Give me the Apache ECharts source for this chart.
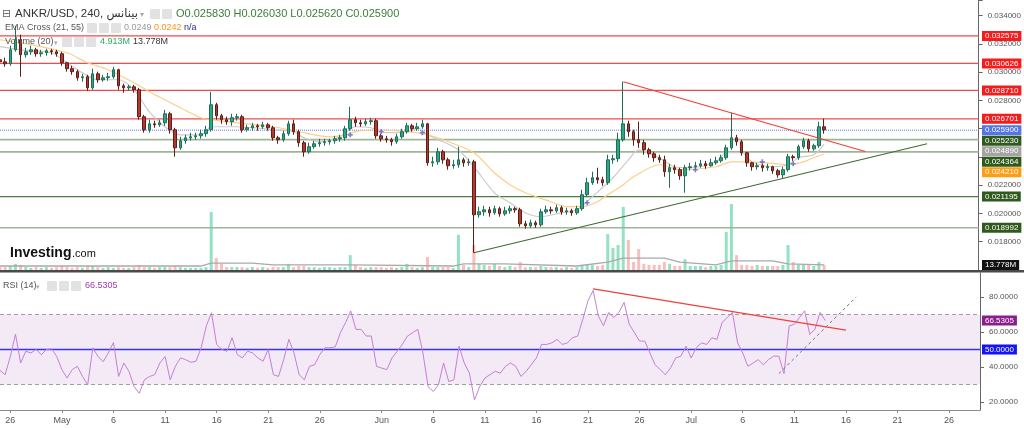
<!DOCTYPE html>
<html><head><meta charset="utf-8">
<script src="https://cdn.jsdelivr.net/npm/echarts@6/dist/echarts.min.js"></script>
<style>html,body{margin:0;padding:0;background:#fff}#c{width:1024px;height:428px}</style>
</head><body><div id="c"></div>
<script>
// ---- time axis (12h bars) ----
const startTime = Date.UTC(2022, 3, 25, 0);
const stepHours = 12;
const categoryCount = 191;
const labelDays = [1, 6, 11, 16, 21, 26];
const monthNames = ['Jan','Feb','Mar','Apr','May','Jun','Jul','Aug','Sep','Oct','Nov','Dec'];

// ---- price bars ----
const opens = [0.03088,
0.03074,0.03060,0.03159,0.03230,0.03124,0.03145,0.03159,0.03131,0.03138,0.03152,
0.03145,0.03131,0.03067,0.03025,0.03004,0.02961,0.02968,0.02890,0.02989,0.02947,
0.02961,0.02968,0.03018,0.02904,0.02890,0.02897,0.02876,0.02685,0.02593,0.02635,
0.02628,0.02642,0.02706,0.02593,0.02465,0.02515,0.02536,0.02543,0.02550,0.02565,
0.02593,0.02770,0.02692,0.02664,0.02650,0.02678,0.02685,0.02593,0.02607,0.02621,
0.02614,0.02628,0.02607,0.02536,0.02522,0.02565,0.02635,0.02579,0.02501,0.02437,
0.02473,0.02494,0.02501,0.02508,
0.02515,0.02529,0.02536,0.02600,0.02664,0.02642,0.02635,0.02650,0.02657,0.02550,
0.02529,0.02522,0.02508,0.02543,0.02579,0.02621,0.02600,0.02614,0.02635,0.02359,
0.02366,0.02437,0.02380,0.02338,0.02345,0.02380,0.02359,0.02366,0.01991,0.02012,
0.02026,0.02005,0.02034,0.01998,0.02019,0.02034,0.02026,0.01927,0.01913,0.01934,
0.01920,0.02012,0.02026,0.02019,0.02041,0.02012,0.02019,0.02005,0.02034,0.02133,
0.02218,0.02253,0.02239,0.02218,0.02380,0.02388,0.02522,0.02635,0.02579,0.02522,
0.02501,0.02451,0.02423,0.02395,
0.02380,0.02296,0.02324,0.02310,0.02267,0.02324,0.02331,0.02338,0.02352,0.02338,
0.02359,0.02373,0.02395,0.02465,0.02536,0.02508,0.02430,0.02359,0.02331,0.02338,
0.02324,0.02331,0.02303,0.02274,0.02310,0.02402,0.02395,0.02473,0.02515,0.02458,
0.02480,0.02614];
const closes = [
0.03074,0.03060,0.03159,0.03230,0.03124,0.03145,0.03159,0.03131,0.03138,0.03152,
0.03145,0.03131,0.03067,0.03025,0.03004,0.02961,0.02968,0.02890,0.02989,0.02947,
0.02961,0.02968,0.03018,0.02904,0.02890,0.02897,0.02876,0.02685,0.02593,0.02635,
0.02628,0.02642,0.02706,0.02593,0.02465,0.02515,0.02536,0.02543,0.02550,0.02565,
0.02593,0.02770,0.02692,0.02664,0.02650,0.02678,0.02685,0.02593,0.02607,0.02621,
0.02614,0.02628,0.02607,0.02536,0.02522,0.02565,0.02635,0.02579,0.02501,0.02437,
0.02473,0.02494,0.02501,0.02508,
0.02515,0.02529,0.02536,0.02600,0.02664,0.02642,0.02635,0.02650,0.02657,0.02550,
0.02529,0.02522,0.02508,0.02543,0.02579,0.02621,0.02600,0.02614,0.02635,0.02359,
0.02366,0.02437,0.02380,0.02338,0.02345,0.02380,0.02359,0.02366,0.01991,0.02012,
0.02026,0.02005,0.02034,0.01998,0.02019,0.02034,0.02026,0.01927,0.01913,0.01934,
0.01920,0.02012,0.02026,0.02019,0.02041,0.02012,0.02019,0.02005,0.02034,0.02133,
0.02218,0.02253,0.02239,0.02218,0.02380,0.02388,0.02522,0.02635,0.02579,0.02522,
0.02501,0.02451,0.02423,0.02395,
0.02380,0.02296,0.02324,0.02310,0.02267,0.02324,0.02331,0.02338,0.02352,0.02338,
0.02359,0.02373,0.02395,0.02465,0.02536,0.02508,0.02430,0.02359,0.02331,0.02338,
0.02324,0.02331,0.02303,0.02274,0.02310,0.02402,0.02395,0.02473,0.02515,0.02458,
0.02480,0.02614,0.02593];
const lows = [0.03053,
0.03039,0.03046,0.03145,0.02968,0.03103,0.03124,0.03110,0.03110,0.03117,0.03124,
0.03110,0.03046,0.03004,0.02982,0.02940,0.02933,0.02869,0.02876,0.02926,0.02933,
0.02940,0.02954,0.02876,0.02855,0.02869,0.02855,0.02664,0.02572,0.02572,0.02607,
0.02614,0.02621,0.02565,0.02402,0.02451,0.02494,0.02515,0.02522,0.02529,0.02543,
0.02579,0.02664,0.02635,0.02628,0.02621,0.02657,0.02572,0.02579,0.02586,0.02586,
0.02600,0.02586,0.02515,0.02494,0.02508,0.02550,0.02557,0.02473,0.02402,0.02423,
0.02458,0.02473,0.02480,0.02487,
0.02494,0.02508,0.02515,0.02586,0.02614,0.02614,0.02621,0.02628,0.02529,0.02508,
0.02501,0.02480,0.02494,0.02529,0.02565,0.02579,0.02586,0.02600,0.02338,0.02331,
0.02345,0.02352,0.02310,0.02317,0.02324,0.02331,0.02338,0.01722,0.01970,0.01984,
0.01977,0.01991,0.01977,0.01984,0.01998,0.02005,0.01906,0.01892,0.01899,0.01899,
0.01906,0.01998,0.01998,0.02005,0.01991,0.01991,0.01984,0.01991,0.02019,0.02119,
0.02203,0.02211,0.02196,0.02203,0.02352,0.02366,0.02508,0.02543,0.02480,0.02465,
0.02416,0.02395,0.02366,0.02359,
0.02260,0.02182,0.02281,0.02239,0.02147,0.02303,0.02310,0.02324,0.02317,0.02331,
0.02345,0.02359,0.02380,0.02451,0.02480,0.02409,0.02331,0.02303,0.02310,0.02296,
0.02303,0.02281,0.02253,0.02246,0.02296,0.02373,0.02380,0.02458,0.02437,0.02444,
0.02465,0.02565];
const highs = [0.03110,
0.03103,0.03188,0.03329,0.03266,0.03173,0.03188,0.03173,0.03159,0.03166,0.03166,
0.03159,0.03145,0.03074,0.03046,0.03018,0.02989,0.02982,0.03025,0.03004,0.02982,
0.02996,0.03039,0.03025,0.02919,0.02911,0.02911,0.02890,0.02699,0.02664,0.02657,
0.02664,0.02734,0.02720,0.02607,0.02543,0.02557,0.02572,0.02572,0.02593,0.02621,
0.02862,0.02784,0.02706,0.02685,0.02706,0.02706,0.02699,0.02628,0.02642,0.02635,
0.02650,0.02642,0.02621,0.02550,0.02586,0.02657,0.02664,0.02593,0.02515,0.02501,
0.02515,0.02529,0.02529,0.02529,
0.02550,0.02557,0.02621,0.02756,0.02685,0.02664,0.02671,0.02678,0.02671,0.02565,
0.02550,0.02536,0.02565,0.02600,0.02642,0.02635,0.02642,0.02664,0.02642,0.02402,
0.02465,0.02451,0.02395,0.02380,0.02473,0.02395,0.02388,0.02380,0.02048,0.02055,
0.02048,0.02055,0.02048,0.02048,0.02055,0.02048,0.02041,0.01949,0.01956,0.01949,
0.02034,0.02055,0.02048,0.02062,0.02055,0.02041,0.02034,0.02055,0.02168,0.02253,
0.02296,0.02324,0.02260,0.02416,0.02416,0.02572,0.02933,0.02657,0.02593,0.02650,
0.02522,0.02465,0.02437,0.02416,
0.02409,0.02352,0.02345,0.02324,0.02345,0.02359,0.02366,0.02380,0.02373,0.02388,
0.02402,0.02416,0.02487,0.02713,0.02557,0.02522,0.02437,0.02366,0.02359,0.02352,
0.02352,0.02338,0.02317,0.02331,0.02423,0.02416,0.02487,0.02536,0.02529,0.02494,
0.02650,0.02671];

// ---- volume (millions) ----
const volumes = [8,
8,11,17,14,8,6,8,6,8,6, 8,11,8,6,8,6,11,11,8,6, 8,6,8,6,6,8,14,8,8,6, 8,8,8,11,8,6,6,6,6,8,
160,33,17,8,8,8,8,6,8,6, 8,6,8,8,8,17,8,11,11,8, 8,6,8, 8,
6,8,8,41,14,8,6,8,8,8, 6,8,6,8,17,8,6,8,36,8, 8,8,8,6,97,14,8,69,17,14, 11,17,11,8,11,8,22,8,8,8,
11,8,8,8,6,8,6,8,14,14, 14,11,14,99,61,69,174,83,22,58, 17,14,14, 14,
22,17,11,11,30,11,11,11,8,11, 11,14,105,182,41,14,14,11,14,11, 11,11,11,14,69,22,14,14,14,11, 22,14];
const volumeMA = [[0,11],[21,11],[39,11],[41,19],[49,19],[53,14],[68,14],[88,11],[90,17],[98,17],[112,11],[118,22],[121,33],[129,33],[132,22],[139,14],[142,25],[150,25],[153,17],[160,14]];

// ---- EMA cross (21, 55) ----
const ema21 = [[0,0.03181],[4,0.03159],[10,0.03138],[13,0.03067],[16,0.02996],[19,0.02947],[23,0.02947],[26,0.02876],[29,0.02720],[32,0.02614],[35,0.02557],[39,0.02557],[41,0.02614],[46,0.02614],[53,0.02593],[57,0.02579],[59,0.02536],[62,0.02508],[66,0.02543],[69,0.02614],[72,0.02607],[75,0.02572],[79,0.02579],[81,0.02607],[83,0.02557],[86,0.02508],[89,0.02451],[92,0.02331],[96,0.02147],[99,0.02076],[102,0.02005],[105,0.01977],[109,0.02005],[112,0.02026],[115,0.02119],[119,0.02253],[122,0.02380],[124,0.02451],[128,0.02395],[131,0.02331],[134,0.02324],[139,0.02366],[141,0.02430],[144,0.02430],[146,0.02366],[150,0.02331],[153,0.02345],[155,0.02395],[158,0.02416],[160,0.02489]];
const ema55 = [[0,0.03230],[6,0.03195],[13,0.03138],[17,0.03067],[21,0.03018],[26,0.02926],[29,0.02862],[32,0.02805],[35,0.02749],[39,0.02678],[41,0.02664],[46,0.02642],[53,0.02614],[59,0.02572],[64,0.02543],[67,0.02557],[69,0.02579],[73,0.02593],[79,0.02579],[83,0.02557],[86,0.02522],[92,0.02430],[96,0.02288],[99,0.02203],[102,0.02147],[107,0.02083],[110,0.02048],[113,0.02048],[116,0.02083],[118,0.02133],[121,0.02203],[123,0.02260],[128,0.02345],[132,0.02310],[139,0.02331],[142,0.02366],[145,0.02366],[149,0.02359],[153,0.02345],[156,0.02366],[158,0.02395],[160,0.02421]];
const emaCrosses = [[68,0.02557],[74,0.02579],[82,0.02572],[114,0.02076],[135,0.02310],[148,0.02366],[154,0.02352]];

// ---- RSI (14) ----
const rsi = [38,
35.6,46,58.7,42.3,49,48,50,47,50,50.4, 46,38.5,33.7,38.5,40.4,34.6,29.8,51,46,43, 48,54,34.6,42.3,37.5,28.8,25,32.7,34.6,35.6,
42.3,46,32.7,40.4,45.2,44.2,42.7,43.3,51,63.5, 71,52.9,50,49,56.7,47.1,45.2,49,48,45.2, 43.3,50,35.6,34.6,44.2,55.8,48,35.6,32.7,40.4,
41.3,47.1,51, 51,
51.5,59.6,65.4,72,61.5,61.5,57.7,57.7,40.4,39.4, 38.5,45.2,49,52.9,57.7,59.6,61.5,48,28.8,26, 29.8,42.3,31.7,32.7,51.9,42.3,36.5,21.2,28.8,33.7,
35.6,37.5,36.5,40.4,42.3,40.4,34.6,37.5,41.3,45.2, 52.9,52.9,53.8,55.8,52.9,53.8,56.7,57.7,67.3,77.9, 83.7,69.2,63.5,71.2,68.3,71.2,76.9,64.4,59.6,54.8,
54.8,48,41.3, 38.5,
35.6,39.4,45.2,46.2,51.9,45.2,51,53.8,52.9,56.7, 55.8,65.4,68.3,71.2,53.8,48,40.4,42.3,44.2,41.3, 44.2,46.2,46.2,36.2,63.5,64.4,68.3,72.1,58.7,61.5,
71.2,66.53];

// ---- drawn levels and trend lines ----
const resistanceLevels = [0.032575, 0.030626, 0.028710, 0.026701];
const supportLevels = [0.025230, 0.024364, 0.021195, 0.018992];
const lastPrice = 0.025900;
const lastEma21 = 0.024890, lastEma55 = 0.024210;
const lastVolumeMA = 13.778;
const lastRsi = 66.5305;
const rsiBand = [30, 70];
const rsiMid = 50;
const priceTrendDown = [[121,0.02933],[168,0.02439]];
const priceTrendUp = [[92,0.01722],[180,0.02494]];
const rsiTrendDown = [[115,84.6],[164,61.1]];
const rsiTrendUp = [[151,36.2],[166,80]];
const priceTicks = [0.018,0.020,0.022,0.028,0.030,0.032,0.034];
const rsiTicks = [20,40,60,80];

// ---------------------------------------------------------------
const categories = [];
for (let i = 0; i < categoryCount; i++) {
  categories.push(new Date(startTime + i * stepHours * 3600e3).toISOString().slice(0, 13));
}
const lastCat = categoryCount - 1;
function isLabelCat(idx) {
  const s = categories[idx]; if (!s) return false;
  return +s.slice(11, 13) === 0 && labelDays.includes(+s.slice(8, 10));
}
function catLabel(s) {
  const d = +s.slice(8, 10), m = +s.slice(5, 7);
  return d === 1 ? monthNames[m - 1] : String(d);
}
const candleData = opens.map((o, i) => [o, closes[i], lows[i], highs[i]]);
const volData = volumes.map((v, i) => ({ value: v, itemStyle: { color: closes[i] >= opens[i] ? 'rgba(60,200,145,0.55)' : 'rgba(242,110,110,0.45)' } }));

const FONT = '"Liberation Sans", Arial, "DejaVu Sans", sans-serif';
function hLine(value, color, width, type, xi, yi, z) {
  return { type: 'line', xAxisIndex: xi, yAxisIndex: yi, data: [[0, value], [lastCat, value]], showSymbol: false,
    silent: true, z: z || 2, lineStyle: { color, width, type } };
}
const chart = echarts.init(document.getElementById('c'), null, { renderer: 'canvas' });
const option = {
  animation: false,
  backgroundColor: '#ffffff',
  textStyle: { fontFamily: FONT },
  grid: [
    { left: 0, right: 44, top: 0, height: 270 },
    { left: 0, right: 44, top: 273, height: 137 }
  ],
  xAxis: [
    { type: 'category', gridIndex: 0, data: categories, boundaryGap: false,
      axisLine: { show: false }, axisTick: { show: false }, axisLabel: { show: false }, splitLine: { show: false } },
    { type: 'category', gridIndex: 1, data: categories, boundaryGap: false,
      axisLine: { show: true, lineStyle: { color: '#8a8a8a' } },
      axisTick: { show: true, interval: isLabelCat, length: 3, lineStyle: { color: '#8a8a8a' } },
      axisLabel: { interval: isLabelCat, formatter: catLabel, color: '#555', fontSize: 9, margin: 6, fontFamily: FONT },
      splitLine: { show: false } }
  ],
  yAxis: [
    { type: 'value', gridIndex: 0, position: 'right', min: 0.016, max: 0.035115, interval: 0.002,
      axisLine: { show: true, lineStyle: { color: '#666' } },
      axisTick: { show: true, length: 4, lineStyle: { color: '#666' } },
      axisLabel: { color: '#555', fontSize: 8, margin: 9, fontFamily: FONT,
        formatter: v => priceTicks.some(t => Math.abs(t - v) < 1e-9) ? v.toFixed(6) : '' },
      splitLine: { show: false } },
    { type: 'value', gridIndex: 0, min: 0, max: 745, show: false, splitLine: { show: false } },
    { type: 'value', gridIndex: 1, position: 'right', min: 15.43, max: 93.71,
      axisLine: { show: true, lineStyle: { color: '#666' } },
      axisTick: { show: true, length: 4, customValues: rsiTicks, lineStyle: { color: '#666' } },
      axisLabel: { customValues: rsiTicks, color: '#555', fontSize: 8, margin: 9, fontFamily: FONT,
        formatter: v => v.toFixed(4) },
      splitLine: { show: false } }
  ],
  series: [
    { type: 'bar', name: 'Volume', xAxisIndex: 0, yAxisIndex: 1, data: volData, barWidth: 3, z: 1, silent: true },
    { type: 'line', name: 'VolMA', xAxisIndex: 0, yAxisIndex: 1, data: volumeMA, showSymbol: false,
      lineStyle: { color: '#a9a9a9', width: 1.3 }, z: 2, silent: true },
    ...resistanceLevels.map(v => hLine(v, '#f24a4a', 1.2, 'solid', 0, 0, 2)),
    hLine(supportLevels[0], '#9fb597', 1.6, 'solid', 0, 0, 2),
    hLine(supportLevels[1], '#9fb597', 1.6, 'solid', 0, 0, 2),
    hLine(supportLevels[2], '#4f7a3e', 1.2, 'solid', 0, 0, 2),
    hLine(supportLevels[3], '#9fb597', 1.6, 'solid', 0, 0, 2),
    hLine(lastPrice, '#5a78e0', 1, 'dotted', 0, 0, 2),
    { type: 'line', name: 'EMA21', xAxisIndex: 0, yAxisIndex: 0, data: ema21, showSymbol: false, smooth: 0.3,
      lineStyle: { color: '#cbcbcb', width: 1.2 }, z: 2, silent: true },
    { type: 'line', name: 'EMA55', xAxisIndex: 0, yAxisIndex: 0, data: ema55, showSymbol: false, smooth: 0.3,
      lineStyle: { color: '#ffcd8a', width: 1.2 }, z: 2, silent: true },
    { type: 'candlestick', name: 'ANKR/USD', xAxisIndex: 0, yAxisIndex: 0, data: candleData, barWidth: 3, z: 3,
      itemStyle: { color: '#2aa785', color0: '#b3392e', borderColor: '#1f6e57', borderColor0: '#5e1e18', borderWidth: 1 } },
    { type: 'line', name: 'TrendDown', xAxisIndex: 0, yAxisIndex: 0, data: priceTrendDown, showSymbol: false,
      lineStyle: { color: '#f0403a', width: 1.2 }, z: 4, silent: true },
    { type: 'line', name: 'TrendUp', xAxisIndex: 0, yAxisIndex: 0, data: priceTrendUp, showSymbol: false,
      lineStyle: { color: '#3f6b33', width: 1.1 }, z: 4, silent: true },
    { type: 'scatter', name: 'Cross', xAxisIndex: 0, yAxisIndex: 0, data: emaCrosses, z: 5, silent: true,
      symbol: 'path://M2,0H4V2H6V4H4V6H2V4H0V2H2Z', symbolSize: 5, itemStyle: { color: '#6060d0' } },
    { type: 'line', name: 'RSI', xAxisIndex: 1, yAxisIndex: 2, data: rsi, showSymbol: false,
      lineStyle: { color: '#c47fd6', width: 1 }, z: 3, silent: true,
      markArea: { silent: true, itemStyle: { color: 'rgba(150,60,170,0.11)' }, data: [[{ yAxis: rsiBand[0] }, { yAxis: rsiBand[1] }]] } },
    hLine(rsiBand[1], '#a79aa8', 1.2, [4, 3], 1, 2, 2),
    hLine(rsiBand[0], '#a79aa8', 1.2, [4, 3], 1, 2, 2),
    hLine(rsiMid, '#3333ff', 1.3, 'solid', 1, 2, 2),
    { type: 'line', name: 'RsiTrendDown', xAxisIndex: 1, yAxisIndex: 2, data: rsiTrendDown, showSymbol: false,
      lineStyle: { color: '#f0403a', width: 1.2 }, z: 4, silent: true },
    { type: 'line', name: 'RsiTrendUp', xAxisIndex: 1, yAxisIndex: 2, data: rsiTrendUp, showSymbol: false,
      lineStyle: { color: '#777', width: 1, type: [3, 3] }, z: 4, silent: true }
  ]
};
chart.setOption(option);

// ---- overlay: value tags on the right axis and pane legends ----
const els = [];
const tag = (text, y, bg, fg) => els.push({ type: 'text', z: 100, x: 982, y: y,
  style: { text: text, fill: fg || '#fff', font: '8px ' + FONT, backgroundColor: bg, padding: [1, 3, 1, 3], verticalAlign: 'middle', align: 'left' } });
const pyMain = v => chart.convertToPixel({ yAxisIndex: 0 }, v);
const mainTags = [
  ...resistanceLevels.map(v => ({ v, bg: '#f31d1d' })),
  { v: lastPrice, bg: '#5376e2' },
  { v: supportLevels[0], bg: '#2f5a1d' },
  { v: lastEma21, bg: '#a4a4a4' },
  { v: supportLevels[1], bg: '#2f5a1d' },
  { v: lastEma55, bg: '#ff9d14' },
  { v: supportLevels[2], bg: '#2f5a1d' },
  { v: supportLevels[3], bg: '#2f5a1d' }
].map(t => ({ ...t, y: pyMain(t.v) })).sort((a, b) => a.y - b.y);
for (let i = 1; i < mainTags.length; i++) if (mainTags[i].y < mainTags[i - 1].y + 10.5) mainTags[i].y = mainTags[i - 1].y + 10.5;
mainTags.forEach(t => tag(t.v.toFixed(6), t.y, t.bg));
tag(lastVolumeMA.toFixed(3) + 'M', chart.convertToPixel({ yAxisIndex: 1 }, lastVolumeMA), '#111');
tag(lastRsi.toFixed(4), chart.convertToPixel({ yAxisIndex: 2 }, lastRsi), '#8c1d8f');
tag(rsiMid.toFixed(4), chart.convertToPixel({ yAxisIndex: 2 }, rsiMid), '#1414f5');

// separator between panes
els.push({ type: 'rect', z: 90, shape: { x: 0, y: 270, width: 1024, height: 2.5 }, style: { fill: '#4a4a4a' } });

const txt = (s, x, y, size, color, weight) => els.push({ type: 'text', z: 100, x, y,
  style: { text: s, fill: color, font: (weight || 'normal') + ' ' + size + 'px ' + FONT, verticalAlign: 'middle' } });
const icon = (x, y) => els.push({ type: 'rect', z: 99, shape: { x, y: y - 5, width: 10, height: 10, r: 1 }, style: { fill: '#e2e2e2' } });

txt('⊟', 2, 14, 11, '#666');
txt('ANKR/USD, 240, بينانس', 15, 14, 11.5, '#333');
txt('▾', 140, 15, 8, '#aaa');
icon(150, 14); icon(162, 14);
txt('O0.025830 H0.026030 L0.025620 C0.025900', 176, 14, 11, '#3b7d3b');

txt('EMA Cross (21, 55)', 5, 28, 9, '#555');
txt('▾', 78, 29, 7, '#aaa');
icon(87, 28); icon(99, 28); icon(111, 28);
txt('0.0249', 124, 28, 9, '#999');
txt('0.0242', 154, 28, 9, '#f7931e');
txt('n/a', 184, 28, 9, '#2e2e8c');

txt('Volume (20)', 5, 42, 9, '#555');
txt('▾', 54, 43, 7, '#aaa');
icon(62, 42); icon(74, 42); icon(86, 42);
txt('4.913M', 100, 42, 9, '#27ad62');
txt('13.778M', 133, 42, 9, '#333');

txt('RSI (14)', 3, 286, 9, '#555');
txt('▾', 36, 287, 7, '#aaa');
icon(47, 286); icon(59, 286); icon(71, 286);
txt('66.5305', 85, 286, 9, '#a23bb5');

txt('Investing', 10, 253, 14, '#111', 'bold');
txt('.com', 72, 254, 11, '#111');

chart.setOption({ graphic: els });
</script>
</body></html>
